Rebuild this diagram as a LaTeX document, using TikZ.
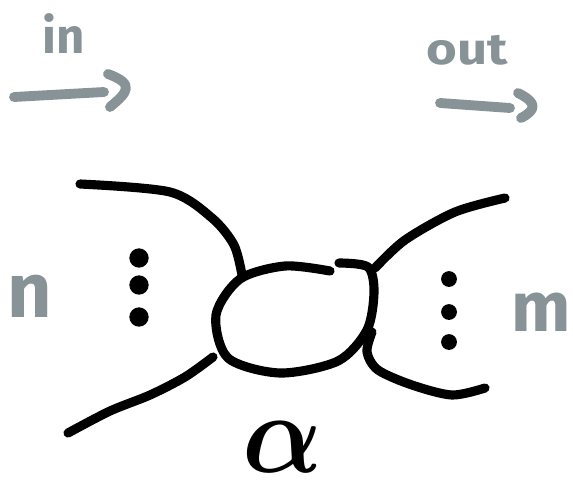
\documentclass[tikz,border=0pt]{standalone}
\usepackage{amsmath}
\usepackage{fontspec}
\setsansfont{Fira Sans}
\usepackage{tikz}
\usetikzlibrary{positioning}

\definecolor{inkgray}{RGB}{135,147,150}

\begin{document}
\begin{tikzpicture}[x=0.02cm,y=-0.02cm,line cap=round,line join=round,
    strand/.style={draw=black,line width=5.2pt},
    flow/.style={draw=inkgray,line width=5.6pt},
    dot/.style={circle,fill=black,inner sep=0pt,minimum size=11pt},
    label/.style={text=inkgray,font=\sffamily\bfseries}]
  \useasboundingbox (0,0) rectangle (573,490);

  % Direction labels
  \node[label,font=\sffamily\bfseries\fontsize{28}{28}\selectfont] (in) at (64,34) {in};
  \node[label,font=\sffamily\bfseries\fontsize{25}{25}\selectfont,xscale=1.2] (out) at (467,50) {out};
  \coordinate (inS) at (14,97);
  \coordinate (inE) at (104,92);
  \coordinate (outS) at (440,103);
  \coordinate (outE) at (510,108);
  \path[flow] (inS) -- (inE);
  \path[flow] (108,74) .. controls (135,84) and (128,92) .. (110,107);
  \path[flow] (outS) -- (outE);
  \path[flow] (518,93) .. controls (538,103) and (536,110) .. (521,118);

  % Vertex
  \draw[strand] plot[smooth] coordinates
    {(330,271) (285,266) (240,279) (216,315) (228,358) (280,373)
     (338,361) (367,330) (374,292) (368,267) (339,263)};

  % Incoming strands
  \draw[strand] plot[smooth] coordinates
    {(80,184) (170,192) (212,218) (234,245) (242,275)};
  \draw[strand] plot[smooth] coordinates
    {(213,357) (185,377) (150,395) (110,411) (68,433)};

  % Outgoing strands
  \draw[strand] plot[smooth] coordinates
    {(375,268) (405,240) (455,212) (505,198)};
  \draw[strand] plot[smooth] coordinates
    {(372,332) (367,352) (378,370) (412,385) (452,395) (485,388)};

  % Dots
  \node[dot] (l1) at (139,258) {};
  \node[dot] (l2) at (139,285) {};
  \node[dot] (l3) at (139,317) {};
  \node[dot,minimum size=9pt] (r1) at (449,279) {};
  \node[dot,minimum size=9pt] (r2) at (449,312) {};
  \node[dot,minimum size=9pt] (r3) at (449,342) {};

  % Counts and vertex name
  \node[label,font=\sffamily\bfseries\fontsize{44}{44}\selectfont] (n) at (30,296) {n};
  \node[label,font=\sffamily\bfseries\fontsize{40}{40}\selectfont] (m) at (541,312) {m};
  \node[inner sep=0pt] (alpha) at (283,447) {\scalebox{6}[6.5]{$\boldsymbol{\alpha}$}};
\end{tikzpicture}
\end{document}
